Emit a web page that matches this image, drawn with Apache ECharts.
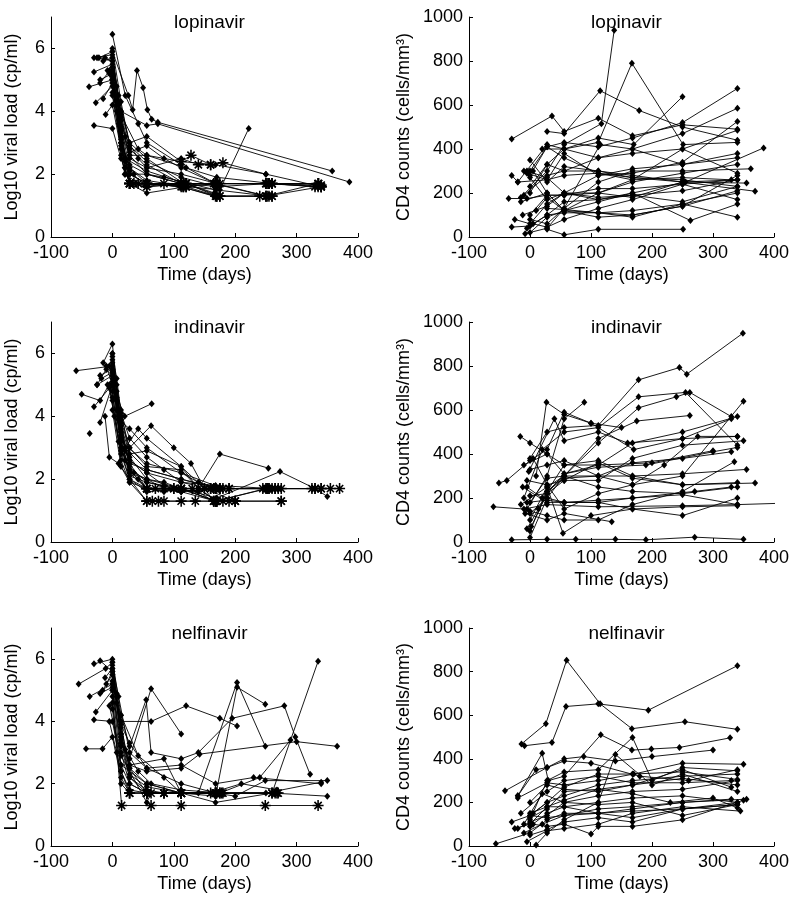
<!DOCTYPE html>
<html>
<head>
<meta charset="utf-8">
<script src="https://cdn.jsdelivr.net/npm/echarts@6/dist/echarts.min.js"></script>
<style>html,body{margin:0;padding:0;background:#fff}#c{width:798px;height:908px}</style>
</head>
<body>
<div id="c"></div>
<script>
// ---- panel titles / axis labels ----
const drugs = ['lopinavir', 'indinavir', 'nelfinavir'];
const xTicks = [-100, 0, 100, 200, 300, 400];
const vlTicks = [0, 2, 4, 6];
const cd4Ticks = [0, 200, 400, 600, 800, 1000];
const xName = 'Time (days)';
const vlName = 'Log10 viral load (cp/ml)';
const cd4Name = 'CD4 counts (cells/mm\u00B3)';

// ---- data: each subject = list of [day, value, censored(1 = asterisk)] ----
const lopinavirVL = [
  [[0,6.45],[21,4.5],[42,3.6],[56,3.0],[112,2.3],[168,1.7,1],[252,1.7,1],[336,1.7,1]],
  [[-30,5.7],[0,5.8],[14,3.8],[28,2.6],[56,2.0],[112,1.7,1],[168,1.7,1],[252,1.3,1]],
  [[-22,5.7],[0,5.9],[14,3.5],[28,2.2],[56,1.7,1],[120,1.7,1],[170,1.3,1],[260,1.3,1]],
  [[-12,5.7],[0,5.6],[10,4.2],[28,2.8],[56,2.3],[112,1.7,1],[170,1.7,1],[255,1.7,1],[340,1.6,1]],
  [[-30,5.25],[0,5.5],[14,3.5],[28,1.7,1],[56,1.7,1],[116,1.6,1],[170,1.7,1],[260,1.7,1]],
  [[-38,4.78],[0,5.0],[14,3.2],[28,2.1],[56,1.6,1],[120,1.7,1],[175,1.7,1],[250,1.7,1],[335,1.6,1]],
  [[-27,4.27],[0,4.8],[14,3.0],[28,2.3],[56,2.0],[84,1.9],[168,1.5],[255,1.3,1]],
  [[-11,3.9],[0,4.2],[14,2.8],[28,2.0],[56,1.7,1],[116,1.7,1],[175,1.6]],
  [[-30,3.55],[0,3.45],[14,2.5],[28,1.7,1],[56,1.4],[120,1.6,1],[170,1.3,1]],
  [[0,5.9],[26,4.5],[33,4.05],[40,5.3],[50,4.75],[57,4.05],[64,3.75],[74,3.65],[358,2.1]],
  [[-5,5.3],[14,4.0],[56,3.55],[74,3.6],[386,1.75]],
  [[0,5.0],[14,3.3],[28,2.6],[56,2.6],[112,2.4,1],[128,2.6,1],[160,2.3,1],[180,2.36,1],[250,2.0],[340,1.6,1]],
  [[0,4.9],[14,3.0],[28,2.2],[56,1.8],[120,1.6],[175,1.5],[222,3.45]],
  [[-20,5.0],[0,5.2],[14,3.7],[28,2.5],[56,2.2],[112,2.0],[170,1.7,1],[260,1.7,1],[335,1.7,1]],
  [[0,5.4],[10,4.5],[28,3.0],[56,2.5],[116,1.7,1],[165,1.7,1],[250,1.3,1],[340,1.6,1]],
  [[0,6.0],[14,4.3],[28,2.9],[56,2.4],[112,1.9],[170,1.6],[255,1.7,1]],
  [[0,5.7],[14,4.0],[28,3.0],[56,3.2],[112,2.4],[168,2.3],[250,2.0]],
  [[-8,5.3],[0,5.0],[20,2.2],[28,1.7,1],[56,1.6],[120,1.7,1],[175,1.3,1],[240,1.3,1],[260,1.3,1]],
  [[0,4.5],[14,2.9],[28,2.0],[56,1.7,1],[115,1.6,1],[170,1.7,1]],
  [[0,5.3],[14,3.4],[21,2.5],[56,2.1],[120,1.7],[166,1.4],[175,1.3,1]],
  [[-15,5.6],[0,5.7],[14,3.9],[42,2.8],[56,2.6],[120,2.2],[170,1.9],[260,1.7,1],[330,1.6,1]],
  [[0,4.6],[20,2.0],[35,1.7,1],[56,1.7],[112,1.6],[165,1.3],[250,1.3,1],[335,1.7,1]],
  [[0,5.1],[14,3.1],[28,1.7,1],[56,1.7,1],[112,1.7,1],[168,1.7,1],[255,1.7,1],[340,1.65,1]],
  [[-25,5.7],[0,5.6],[7,4.8],[14,3.0],[21,2.2],[28,1.7,1],[56,1.7,1],[112,1.6,1],[168,1.3,1]],
  [[-5,5.2],[7,4.0],[14,2.6],[21,2.0],[42,1.7,1],[56,1.6],[84,1.7,1],[120,1.6,1]],
  [[-20,4.9],[0,5.4],[10,3.6],[21,2.4],[35,2.0],[56,2.0],[112,1.7,1],[168,1.7,1],[260,1.7,1]],
  [[0,5.0],[7,4.3],[21,3.2],[42,2.5],[56,2.2],[112,2.5],[140,2.3,1],[160,2.3,1]],
  [[-15,4.4],[0,4.9],[14,3.4],[28,2.7],[56,2.9],[84,2.5],[112,2.2],[168,1.7,1],[250,1.7,1]]
];

const lopinavirCD4 = [
  [[-30,445],[36,550],[56,480],[112,540],[168,460],[250,510],[340,490]],
  [[-15,180],[28,300],[56,420],[117,515],[138,940]],
  [[0,230],[28,330],[56,400],[112,430],[167,790],[251,420],[340,430]],
  [[28,480],[56,470],[115,665],[179,575],[250,500],[340,440]],
  [[-20,250],[28,420],[56,400],[112,450],[170,420],[250,638]],
  [[0,300],[28,410],[56,430],[112,410],[168,450],[250,520],[340,675]],
  [[0,200],[28,330],[56,300],[112,360],[168,400],[250,470],[340,585]],
  [[-30,280],[-20,250],[28,260],[56,380],[112,280],[168,290],[250,340],[340,525]],
  [[-25,80],[0,60],[28,150],[56,200],[112,200],[168,260],[250,400],[340,485]],
  [[10,120],[28,180],[56,120],[112,110],[168,100],[250,140],[340,210]],
  [[0,20],[28,90],[56,120],[112,160],[168,200],[255,250],[383,405]],
  [[-8,15],[28,40],[56,130],[112,250],[168,300],[250,300],[362,310]],
  [[-30,45],[0,50],[28,100],[56,110],[112,110],[168,120],[250,150],[340,90]],
  [[-35,175],[-5,175],[28,190],[56,190],[112,200],[168,180],[250,250],[369,208]],
  [[-5,300],[28,270],[56,200],[112,170],[168,200],[263,75],[340,150]],
  [[28,35],[56,10],[112,35],[251,35]],
  [[0,350],[28,250],[56,320],[112,300],[168,270],[250,260],[340,230]],
  [[-15,160],[28,200],[56,120],[112,90],[168,100],[250,140],[340,280]],
  [[0,80],[28,60],[56,130],[115,420],[168,400],[250,330],[340,360]],
  [[-10,190],[28,280],[56,300],[112,300],[168,280],[250,250],[355,245]],
  [[0,100],[28,190],[56,190],[112,220],[168,220],[250,240],[340,170]],
  [[5,60],[28,45],[56,80],[112,130],[168,170],[250,240],[340,260]],
  [[-5,290],[28,260],[56,280],[112,290],[168,260],[250,270],[330,260]],
  [[20,400],[56,400],[112,360],[168,380],[250,400],[340,290]],
  [[28,130],[56,125],[112,110],[168,90],[250,150],[340,200]],
  [[-10,300],[0,280],[28,410],[56,360],[112,290],[168,270],[250,250],[340,260]],
  [[-5,40],[28,100],[56,160],[112,170],[168,190],[250,160],[340,230]],
  [[0,270],[28,170],[56,200],[112,280],[168,310],[250,330],[340,380]],
  [[-12,100],[28,140],[56,200],[112,180],[168,190],[250,210],[340,260]],
  [[5,300],[28,200],[56,120],[112,200],[168,250],[250,290],[340,330]]
];

const indinavirVL = [
  [[-59,5.45],[0,5.6],[14,3.5],[28,2.5],[56,1.7,1],[84,1.7,1],[112,1.7,1],[168,1.3,1],[252,1.7,1],[340,1.7,1]],
  [[-50,4.7],[-20,4.5],[0,5.2],[14,3.2],[28,2.2],[56,1.7],[112,1.6],[175,1.7,1],[270,1.7,1],[370,1.7,1]],
  [[-15,5.7],[0,6.3],[7,5.0],[14,3.5],[28,2.4],[56,1.9],[112,1.7,1],[168,1.3,1],[200,1.3,1]],
  [[-30,4.3],[-5,4.9],[14,2.8],[28,2.0],[56,1.3,1],[84,1.3,1],[112,1.3,1],[180,1.3,1],[275,1.3,1]],
  [[-25,5.0],[-10,5.5],[0,5.8],[14,3.8],[28,3.0],[63,3.7],[100,3.0],[128,2.5],[150,1.7,1],[200,1.3]],
  [[-20,3.8],[0,5.0],[20,4.0],[64,4.4]],
  [[-12,4.0],[-5,2.7],[10,2.5],[28,2.0],[56,1.7,1],[112,1.7,1],[190,1.7,1]],
  [[-37,3.45]],
  [[0,5.5],[14,4.0],[28,3.0],[56,2.4],[112,2.3],[140,1.7],[175,2.8],[254,2.35]],
  [[0,5.0],[14,3.0],[28,2.2],[56,2.0],[112,1.7],[170,1.4],[273,2.24],[330,1.7,1],[350,1.45]],
  [[-5,5.6],[7,4.5],[14,3.2],[28,2.3],[56,1.7,1],[70,1.7,1],[100,1.7,1],[130,1.7,1],[165,1.3,1],[190,1.3,1]],
  [[0,4.8],[14,2.6],[28,1.9],[56,1.3,1],[65,1.3,1],[75,1.3,1],[135,1.3,1],[170,1.3,1]],
  [[0,5.9],[14,3.9],[21,3.0],[42,3.6],[56,3.3],[112,2.4],[150,1.7],[165,1.3,1],[200,1.3,1]],
  [[0,5.3],[10,3.9],[28,3.6],[56,3.0],[112,2.2],[140,1.9],[175,1.7,1],[255,1.7,1],[355,1.7,1]],
  [[-18,5.2],[0,5.4],[14,3.6],[28,2.6],[56,2.2],[112,1.9],[168,1.8],[260,1.7,1],[330,1.7,1]],
  [[0,4.5],[14,2.9],[28,2.0],[56,1.6],[112,1.7,1],[168,1.3],[250,1.7,1],[275,1.7,1]],
  [[0,5.7],[14,4.2],[28,2.7],[56,2.0],[84,1.9],[112,1.7,1],[165,1.7,1],[190,1.7,1],[265,1.7,1]],
  [[-8,5.0],[0,4.6],[14,3.3],[28,2.1],[56,1.9],[100,1.7,1],[140,1.7],[170,1.3,1],[275,1.3,1]],
  [[0,6.0],[7,4.8],[14,3.4],[28,2.5],[56,2.3],[112,2.0],[168,1.7,1],[252,1.7,1]],
  [[0,4.2],[14,2.4],[28,1.9],[56,1.7,1],[84,1.7],[112,1.6],[160,1.7,1]],
  [[-25,5.0],[0,5.3],[14,3.2],[56,2.5],[112,2.2],[180,1.7,1],[245,1.7,1],[325,1.7,1]],
  [[0,5.1],[14,3.7],[28,2.8],[56,2.9],[112,2.4],[140,1.7],[170,1.3,1]],
  [[-10,5.6],[0,5.0],[7,4.2],[14,3.0],[28,2.3],[42,2.0],[56,1.7,1],[84,1.6],[112,1.7,1],[168,1.7,1]],
  [[0,5.4],[7,4.6],[14,3.8],[21,2.9],[28,2.6],[56,2.2],[84,1.8],[112,1.6],[168,1.3,1],[200,1.3,1]],
  [[-5,5.0],[3,4.0],[10,3.2],[21,2.6],[35,2.2],[56,2.0],[84,1.7],[140,1.6]],
  [[0,6.0],[7,5.2],[14,4.1],[28,3.3],[56,2.7],[84,2.3],[112,1.9],[160,1.7,1],[255,1.7,1]],
  [[-20,5.3],[0,5.5],[10,3.9],[20,3.0],[56,2.3],[112,2.0],[175,1.7,1],[265,1.7,1],[340,1.7,1]]
];

const indinavirCD4 = [
  [[-60,160],[-10,150],[28,170],[112,160],[250,165],[340,170],[410,176]],
  [[-30,10],[28,12],[75,12],[140,12],[190,10],[270,22],[350,12]],
  [[-51,268],[-38,280],[0,370],[28,420],[56,590],[100,540],[150,520]],
  [[-16,480],[0,450],[28,400],[56,350],[112,370],[168,300],[250,260],[369,268]],
  [[0,380],[28,500],[56,520],[112,530],[178,737],[245,793],[257,763],[349,949]],
  [[10,300],[27,635],[56,580],[100,540],[170,420],[250,470],[340,480]],
  [[-5,150],[28,300],[56,560],[89,635]],
  [[-10,200],[20,420],[56,500],[112,520],[178,660],[255,680],[340,440]],
  [[0,100],[28,250],[56,300],[112,450],[178,610],[240,660],[262,680],[330,570]],
  [[0,50],[28,230],[56,300],[112,470],[175,550],[262,575]],
  [[-5,60],[14,150],[28,230],[56,350],[112,350],[200,360],[300,415]],
  [[0,20],[28,200],[56,300],[112,300],[168,300],[250,310],[355,330]],
  [[-15,170],[28,250],[54,40],[100,120],[168,150],[250,160],[340,165]],
  [[-8,130],[28,100],[56,130],[134,92]],
  [[-12,250],[28,180],[56,180],[112,180],[168,150],[250,120],[340,200]],
  [[5,380],[28,260],[56,150],[112,220],[168,260],[250,300],[350,640]],
  [[0,210],[28,220],[56,280],[112,280],[168,380],[250,440],[350,460]],
  [[-2,320],[40,560],[56,460],[112,500],[160,450],[250,470],[330,560]],
  [[-5,280],[28,260],[56,280],[112,360],[168,290],[250,260],[340,270]],
  [[0,140],[28,120],[56,100],[112,100],[168,170],[250,230],[335,365]],
  [[-5,180],[28,190],[56,180],[112,180],[168,200],[270,230],[330,250]],
  [[2,70],[28,220],[56,310],[112,340],[190,350],[300,410],[340,430]],
  [[0,330],[28,350],[56,370],[112,300],[168,260],[220,350],[275,480],[340,480]],
  [[-5,250],[20,200],[28,230],[56,290],[112,300],[168,360],[250,380],[330,410]],
  [[0,180],[28,290],[56,300],[112,250],[168,230],[250,220],[340,250]],
  [[-10,350],[28,400],[56,310],[112,350],[168,450],[250,500],[340,570]],
  [[0,130],[28,200],[56,180],[112,190],[168,200],[250,215],[340,170]]
];

const nelfinavirVL = [
  [[0,4.8],[15,1.3,1],[63,1.3,1],[112,1.3,1],[249,1.3,1],[335,1.3,1]],
  [[-55,5.2],[-11,5.7],[0,5.9],[14,3.6],[28,2.5],[56,1.7,1],[84,1.7,1],[112,1.7,1],[168,1.7,1]],
  [[-30,5.85],[0,6.0],[14,4.2],[28,3.2],[55,4.7],[63,3.0],[112,2.8],[140,3.0],[195,4.1],[280,4.5],[298,3.5],[322,2.3]],
  [[-20,5.95],[0,5.6],[14,3.8],[28,2.6],[84,2.8],[112,1.7,1],[168,1.7,1],[265,1.7,1]],
  [[-43,3.12],[-16,3.12],[0,3.5],[14,2.2],[28,1.7,1],[56,1.7,1],[112,1.7],[170,1.7,1]],
  [[-37,4.8],[0,5.2],[14,4.0],[63,4.0],[120,4.5],[175,4.1],[203,3.85]],
  [[-27,4.3],[0,5.0],[14,3.3],[28,2.8],[63,5.05],[112,3.6]],
  [[-30,4.05],[0,4.0],[14,2.6],[56,2.0],[112,1.7,1],[140,1.7],[203,5.25],[249,3.2]],
  [[0,5.5],[14,3.5],[28,2.3],[56,1.9],[112,1.7,1],[168,1.6],[203,5.1],[249,4.55]],
  [[0,5.7],[14,3.5],[28,2.5],[56,2.0],[112,1.7,1],[168,1.7,1],[200,1.6],[249,2.1],[350,2.1]],
  [[0,5.3],[14,3.2],[28,2.2],[56,1.7],[112,1.7,1],[170,1.7],[260,1.7,1],[335,5.93]],
  [[0,4.6],[14,2.4],[28,1.7,1],[56,1.7,1],[112,1.7,1],[175,1.7,1],[240,2.2],[290,3.4]],
  [[-16,5.0],[0,5.5],[14,3.6],[28,2.6],[56,2.4],[112,2.5],[142,2.95],[300,3.35],[366,3.2]],
  [[0,5.0],[14,2.6],[28,2.0],[56,1.7,1],[84,1.7],[112,1.7,1],[168,1.4],[260,1.7,1],[350,1.6]],
  [[0,5.8],[10,4.8],[28,3.0],[56,2.5],[112,2.0],[168,1.7,1],[250,1.7],[340,2.05]],
  [[-5,4.5],[14,2.9],[56,1.4],[63,1.7,1],[112,1.7,1],[178,1.7,1],[270,1.7,1]],
  [[0,5.2],[14,4.2],[42,2.9],[84,2.2],[112,1.7,1],[160,1.7],[210,2.0],[268,1.8]],
  [[0,4.4],[14,2.0],[28,1.7,1],[56,1.7,1],[112,1.7],[175,1.7,1]],
  [[-10,5.2],[0,5.6],[14,3.9],[28,3.3],[56,2.5],[112,2.6],[168,2.0],[230,2.2],[340,2.0]],
  [[-12,5.4],[0,5.7],[7,4.6],[14,3.4],[28,2.2],[56,1.8],[84,1.7,1],[112,1.7,1],[168,1.7,1],[268,1.7,1]],
  [[-20,4.9],[0,5.1],[14,3.0],[28,2.0],[56,1.7,1],[112,1.7,1],[175,1.7]],
  [[0,5.9],[7,4.9],[21,3.1],[42,2.4],[63,2.0],[112,1.8],[180,1.7,1]],
  [[-5,4.0],[7,3.0],[14,2.4],[28,1.8],[56,1.7,1],[84,1.7,1],[112,1.7,1],[160,1.7,1]]
];

const nelfinavirCD4 = [
  [[-14,468],[26,561],[60,852],[115,652],[167,538],[254,570],[340,535]],
  [[-9,460],[36,475],[59,640],[112,652],[194,623],[340,827]],
  [[-20,230],[20,425],[30,300],[56,320],[116,510],[167,440],[199,445],[245,452],[328,496]],
  [[-41,253],[28,360],[56,400],[88,410],[140,390],[200,410],[300,440]],
  [[-56,10],[0,60],[28,120],[56,150],[112,150],[168,160],[250,170],[340,190]],
  [[0,120],[28,300],[56,340],[112,350],[168,498],[200,300],[250,360],[340,345]],
  [[-20,220],[28,290],[56,280],[112,300],[170,330],[250,380],[350,375]],
  [[-30,110],[0,140],[28,200],[56,270],[112,330],[168,330],[250,340],[340,305]],
  [[0,90],[28,150],[56,180],[112,200],[168,220],[250,230],[340,200]],
  [[10,5],[28,60],[56,120],[112,200],[140,420],[200,280],[250,330],[340,250]],
  [[-25,80],[0,100],[28,180],[56,210],[112,260],[168,280],[250,310],[340,280]],
  [[-15,150],[28,250],[56,300],[112,320],[168,290],[250,290],[330,300]],
  [[5,100],[28,90],[56,100],[100,55],[112,90],[168,90],[250,120],[350,210]],
  [[0,130],[28,170],[56,250],[112,260],[168,240],[230,200],[300,220],[340,175]],
  [[-5,20],[28,70],[56,80],[112,100],[168,150],[250,180],[345,160]],
  [[0,200],[28,280],[56,260],[112,250],[168,280],[250,350],[330,270]],
  [[-10,100],[20,240],[56,200],[112,190],[168,200],[250,140],[340,190]],
  [[0,140],[28,130],[56,140],[112,150],[168,170],[250,200],[355,215]],
  [[0,50],[28,75],[56,110],[112,130],[168,110],[250,170],[340,200]],
  [[-20,230],[10,350],[28,360],[56,390],[100,380],[180,320],[260,300],[340,350]],
  [[-20,80],[0,110],[28,140],[56,200],[112,230],[168,250],[250,260],[340,300]],
  [[0,150],[28,180],[56,180],[112,150],[168,130],[250,170],[340,190]],
  [[-10,60],[20,100],[56,140],[112,170],[168,180],[250,200],[330,215]],
  [[5,150],[28,200],[56,230],[112,280],[168,300],[250,320],[340,330]]
];

// ---- build ----
const panels = [lopinavirVL, lopinavirCD4, indinavirVL, indinavirCD4, nelfinavirVL, nelfinavirCD4];
const STAR = 'path://M4.3,0L5.7,0L5.7,10L4.3,10Z M0,4.3L10,4.3L10,5.7L0,5.7Z M1.2,2.2L2.2,1.2L8.8,7.8L7.8,8.8Z M8.8,2.2L2.2,8.8L1.2,7.8L7.8,1.2Z';
const FONT = '"Liberation Sans", Arial, Helvetica, sans-serif';
const tops = [17, 322, 628];
const heights = [220, 220, 218];
const lefts = [51, 469];
const widths = [307, 305];

const grid = [], xAxis = [], yAxis = [], title = [], series = [];
for (let p = 0; p < 6; p++) {
  const row = Math.floor(p / 2), col = p % 2;
  grid.push({left: lefts[col], top: tops[row], width: widths[col], height: heights[row], containLabel: false});
  title.push({text: drugs[row], left: lefts[col] + widths[col] / 2, top: tops[row] - 9, textAlign: 'center',
    textStyle: {fontFamily: FONT, fontSize: 19, fontWeight: 'normal', color: '#000'}});
  const axLine = {show: true, onZero: false, lineStyle: {color: '#000', width: 1}};
  const nameStyle = {fontFamily: FONT, fontSize: 18, color: '#000'};
  xAxis.push({
    type: 'value', gridIndex: p, min: -100, max: 400, interval: 100,
    axisLine: axLine, splitLine: {show: false},
    axisTick: {show: true, inside: true, length: 4, lineStyle: {color: '#000'}, customValues: xTicks},
    axisLabel: {customValues: xTicks, fontFamily: FONT, fontSize: 18, color: '#000', margin: 7, formatter: v => String(v)},
    name: xName, nameLocation: 'middle', nameGap: 29, nameTextStyle: nameStyle
  });
  const isVL = col === 0;
  const yt = isVL ? vlTicks : cd4Ticks;
  yAxis.push({
    type: 'value', gridIndex: p, min: 0, max: isVL ? 7 : 1000, interval: isVL ? 2 : 200,
    axisLine: axLine, splitLine: {show: false},
    axisTick: {show: true, inside: true, length: 4, lineStyle: {color: '#000'}, customValues: yt},
    axisLabel: {customValues: yt, fontFamily: FONT, fontSize: 18, color: '#000', margin: 6, formatter: v => String(v)},
    name: isVL ? vlName : cd4Name, nameLocation: 'middle', nameGap: isVL ? 30 : 56, nameTextStyle: nameStyle
  });
  panels[p].forEach(subj => {
    series.push({
      type: 'line', xAxisIndex: p, yAxisIndex: p, silent: true, animation: false,
      symbol: 'diamond', symbolSize: [6, 7],
      lineStyle: {color: '#000', width: 0.9},
      itemStyle: {color: '#000', borderWidth: 0},
      data: subj.map(pt => pt[2]
        ? {value: [pt[0], pt[1]], symbol: STAR, symbolSize: 11}
        : {value: [pt[0], pt[1]]})
    });
  });
}

const chart = echarts.init(document.getElementById('c'), null, {renderer: 'canvas'});
chart.setOption({animation: false, backgroundColor: '#fff', title, grid, xAxis, yAxis, series});
</script>
</body>
</html>
